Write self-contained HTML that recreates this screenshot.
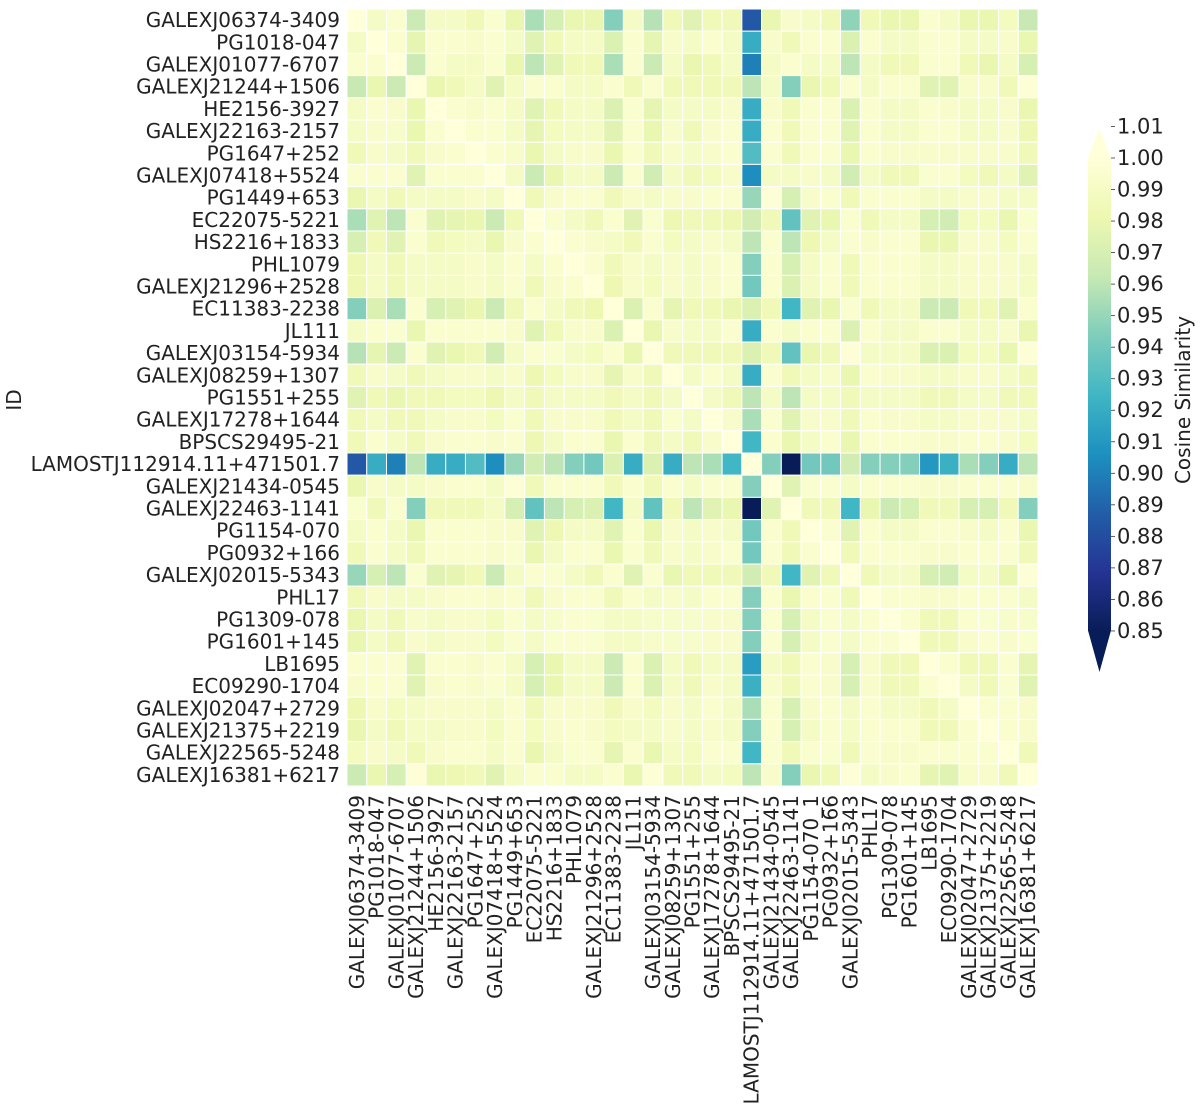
<!DOCTYPE html>
<html><head><meta charset="utf-8"><style>
html,body{margin:0;padding:0;background:#fff;}
svg{display:block;font-family:"DejaVu Sans","Liberation Sans",sans-serif;}
</style></head><body>
<svg id="chart" width="1200" height="1111" viewBox="0 0 1200 1111" xmlns="http://www.w3.org/2000/svg">
<g id="cells"></g>
<g id="ylabels"></g>
<g id="xlabels"></g>
<text transform="translate(21,400) rotate(-90)" text-anchor="middle" font-size="20" fill="#222">ID</text>
<g id="cbar"></g>
<text transform="translate(1190,400) rotate(-90)" text-anchor="middle" font-size="20" fill="#222">Cosine Similarity</text>
</svg>
<script>
const names = ["GALEXJ06374-3409","PG1018-047","GALEXJ01077-6707","GALEXJ21244+1506","HE2156-3927","GALEXJ22163-2157","PG1647+252","GALEXJ07418+5524","PG1449+653","EC22075-5221","HS2216+1833","PHL1079","GALEXJ21296+2528","EC11383-2238","JL111","GALEXJ03154-5934","GALEXJ08259+1307","PG1551+255","GALEXJ17278+1644","BPSCS29495-21","LAMOSTJ112914.11+471501.7","GALEXJ21434-0545","GALEXJ22463-1141","PG1154-070","PG0932+166","GALEXJ02015-5343","PHL17","PG1309-078","PG1601+145","LB1695","EC09290-1704","GALEXJ02047+2729","GALEXJ21375+2219","GALEXJ22565-5248","GALEXJ16381+6217"];
const xNames = names.map(n => n === "PG1154-070" ? "PG1154-070_1" : n);
const cbarTicks = [1.01,1.00,0.99,0.98,0.97,0.96,0.95,0.94,0.93,0.92,0.91,0.90,0.89,0.88,0.87,0.86,0.85];
const values = [
[1.0,.99,.995,.965,.99,.99,.985,.995,.98,.955,.97,.98,.98,.945,.99,.958,.985,.975,.985,.985,.885,.98,.993,.99,.985,.948,.985,.98,.98,.995,.99,.98,.98,.988,.963],
[.99,1,.995,.978,.995,.995,.993,.995,.99,.975,.985,.99,.99,.972,.995,.978,.993,.99,.995,.99,.92,.993,.985,.995,.995,.972,.995,.99,.99,.995,.995,.99,.99,.993,.98],
[.995,.995,1,.965,.995,.99,.99,.995,.98,.96,.975,.985,.985,.955,.995,.965,.99,.98,.985,.99,.9,.99,.995,.99,.99,.96,.99,.985,.985,.995,.995,.985,.98,.99,.97],
[.963,.98,.965,1,.98,.985,.99,.975,.99,.995,.995,.99,.99,.995,.985,.995,.985,.985,.985,.985,.96,.99,.945,.98,.985,.995,.99,.995,.995,.975,.975,.993,.993,.985,.998],
[.99,.995,.993,.98,1,.995,.993,.995,.99,.975,.985,.99,.99,.972,.995,.978,.99,.99,.99,.993,.92,.993,.985,.995,.995,.972,.995,.99,.99,.995,.993,.99,.99,.993,.98],
[.99,.993,.993,.98,.995,1,.995,.995,.99,.978,.988,.99,.99,.975,.995,.98,.993,.985,.993,.995,.92,.995,.985,.995,.995,.975,.995,.99,.99,.995,.995,.99,.99,.993,.982],
[.985,.993,.99,.985,.993,.995,1,.995,.993,.98,.99,.993,.993,.98,.995,.985,.993,.99,.993,.995,.93,.995,.985,.995,.995,.98,.995,.993,.993,.993,.993,.993,.993,.993,.985],
[.995,.995,.995,.975,.995,.995,.995,1,.99,.965,.98,.99,.99,.965,.995,.968,.99,.985,.988,.993,.905,.99,.99,.993,.99,.968,.99,.985,.985,.995,.995,.988,.985,.99,.975],
[.98,.99,.985,.99,.99,.99,.993,.99,1,.985,.993,.995,.995,.985,.993,.99,.993,.993,.995,.995,.95,.998,.97,.993,.995,.985,.995,.995,.995,.99,.99,.993,.993,.99,.99],
[.955,.975,.96,.995,.975,.978,.98,.965,.985,1,.995,.99,.985,.995,.975,.995,.982,.985,.985,.982,.968,.985,.935,.975,.98,.995,.985,.99,.99,.97,.968,.988,.988,.98,.995],
[.97,.985,.975,.995,.985,.988,.99,.98,.993,.995,1,.995,.993,.99,.985,.995,.988,.99,.993,.99,.96,.995,.96,.982,.99,.995,.993,.995,.995,.98,.98,.993,.993,.988,.995],
[.982,.99,.985,.99,.99,.99,.993,.99,.995,.99,.995,1,.995,.985,.993,.99,.993,.99,.993,.995,.945,.995,.97,.99,.995,.985,.995,.995,.995,.99,.99,.993,.993,.993,.99],
[.982,.99,.985,.99,.99,.99,.993,.99,.995,.985,.993,.995,1,.982,.993,.988,.993,.99,.993,.995,.94,.995,.972,.99,.995,.985,.995,.995,.995,.99,.99,.993,.993,.993,.99],
[.945,.972,.955,.995,.97,.975,.98,.965,.985,.995,.99,.985,.982,1,.972,.995,.978,.985,.985,.98,.972,.985,.925,.975,.98,.995,.985,.99,.99,.965,.965,.985,.985,.975,.995],
[.99,.995,.995,.98,.995,.995,.995,.995,.993,.975,.985,.993,.993,.972,1,.98,.993,.99,.99,.995,.92,.995,.99,.995,.995,.972,.995,.99,.99,.995,.995,.99,.99,.993,.98],
[.958,.978,.965,.995,.975,.98,.985,.968,.99,.995,.995,.99,.988,.995,.98,1,.985,.985,.985,.985,.972,.985,.935,.98,.985,.998,.99,.99,.99,.972,.972,.988,.988,.98,.998],
[.985,.993,.99,.985,.99,.993,.993,.99,.993,.982,.988,.993,.993,.978,.993,.985,1,.99,.995,.99,.92,.995,.985,.99,.993,.98,.995,.993,.993,.99,.99,.993,.993,.99,.985],
[.975,.985,.98,.985,.985,.988,.988,.982,.99,.985,.99,.99,.99,.985,.99,.985,.99,1,.99,.985,.96,.99,.96,.99,.99,.985,.99,.99,.99,.985,.985,.99,.99,.985,.985],
[.985,.99,.985,.985,.99,.993,.993,.988,.995,.985,.993,.993,.993,.985,.99,.985,.995,.99,1,.993,.955,.995,.975,.993,.993,.985,.995,.993,.993,.99,.99,.993,.993,.993,.99],
[.985,.995,.99,.985,.993,.995,.995,.993,.995,.982,.99,.995,.995,.98,.995,.985,.99,.985,.993,1,.925,.995,.98,.99,.995,.98,.995,.995,.995,.993,.993,.995,.995,.993,.988],
[.885,.92,.9,.96,.92,.92,.93,.905,.95,.968,.96,.945,.94,.972,.92,.972,.92,.96,.955,.925,1,.945,.85,.94,.94,.968,.945,.945,.945,.91,.922,.955,.945,.92,.96],
[.98,.993,.99,.99,.993,.995,.995,.99,.998,.985,.995,.995,.995,.985,.995,.985,.995,.99,.995,.995,.945,1,.975,.995,.995,.99,.995,.995,.995,.993,.993,.995,.995,.995,.993],
[.995,.985,.995,.945,.985,.985,.985,.99,.97,.935,.96,.97,.972,.925,.99,.935,.985,.96,.975,.98,.85,.975,1,.985,.985,.925,.98,.965,.97,.985,.985,.97,.97,.985,.945],
[.99,.995,.99,.98,.995,.995,.995,.993,.993,.975,.982,.99,.99,.975,.995,.98,.993,.99,.993,.99,.94,.995,.985,1,.995,.975,.995,.99,.99,.995,.995,.993,.99,.995,.98],
[.985,.995,.99,.985,.995,.995,.995,.993,.995,.98,.99,.995,.995,.98,.995,.985,.993,.99,.993,.995,.94,.995,.985,.995,1,.985,.995,.995,.995,.993,.993,.995,.995,.995,.985],
[.95,.97,.96,.995,.975,.978,.985,.965,.99,.995,.995,.99,.985,.995,.975,.995,.98,.985,.985,.985,.968,.985,.925,.975,.985,1,.985,.99,.99,.97,.968,.99,.99,.98,.998],
[.985,.993,.99,.99,.993,.995,.995,.993,.995,.985,.993,.995,.995,.985,.995,.99,.993,.99,.995,.995,.945,.995,.98,.995,.995,.985,1,.995,.995,.993,.993,.995,.995,.995,.99],
[.98,.99,.985,.993,.99,.993,.993,.988,.995,.99,.993,.995,.995,.99,.99,.993,.993,.993,.993,.993,.945,.995,.97,.99,.995,.99,.995,1,.995,.985,.985,.995,.995,.993,.993],
[.98,.99,.985,.993,.99,.993,.993,.988,.995,.99,.995,.995,.995,.99,.99,.993,.993,.993,.993,.993,.945,.995,.97,.99,.995,.99,.995,.995,1,.985,.985,.993,.995,.993,.995],
[.995,.995,.995,.975,.995,.995,.993,.995,.99,.97,.98,.99,.99,.965,.995,.972,.99,.985,.99,.99,.912,.99,.985,.995,.993,.97,.993,.985,.985,1,.995,.985,.985,.995,.978],
[.993,.995,.995,.975,.993,.995,.993,.995,.99,.97,.98,.99,.99,.965,.995,.972,.99,.985,.993,.99,.922,.993,.985,.995,.993,.97,.993,.985,.985,.995,1,.99,.985,.995,.975],
[.982,.993,.988,.99,.993,.993,.993,.99,.995,.985,.993,.993,.993,.985,.993,.988,.993,.99,.995,.99,.955,.995,.97,.993,.995,.99,.995,.99,.99,.985,.99,1,.995,.995,.993],
[.98,.99,.985,.99,.99,.993,.993,.988,.995,.988,.993,.995,.993,.988,.99,.99,.993,.99,.993,.99,.945,.995,.97,.99,.995,.99,.995,.995,.995,.985,.985,.995,1,.995,.993],
[.988,.993,.99,.985,.993,.995,.995,.99,.995,.98,.99,.995,.995,.978,.995,.98,.99,.988,.995,.995,.925,.995,.985,.995,.995,.985,.995,.993,.993,.995,.995,.995,.995,1,.985],
[.965,.98,.97,.998,.98,.982,.985,.975,.99,.995,.995,.99,.99,.995,.98,.998,.985,.985,.99,.988,.96,.993,.945,.98,.985,.998,.99,.993,.995,.978,.975,.993,.993,.985,1]
];
const VMIN = 0.85, VMAX = 1.00;
const stops = ["#ffffd9","#edf8b1","#c7e9b4","#7fcdbb","#41b6c4","#1d91c0","#225ea8","#253494","#081d58"];
function hex(c){return [parseInt(c.substr(1,2),16),parseInt(c.substr(3,2),16),parseInt(c.substr(5,2),16)];}
function color(v){
  let t = (VMAX - v)/(VMAX - VMIN); t = Math.max(0, Math.min(1, t));
  const p = t*(stops.length-1); const i = Math.min(Math.floor(p), stops.length-2); const f = p - i;
  const a = hex(stops[i]), b = hex(stops[i+1]);
  return "rgb(" + a.map((x,k)=>Math.round(x+(b[k]-x)*f)).join(",") + ")";
}
const NS = "http://www.w3.org/2000/svg";
const X0 = 347, X1 = 1038, Y0 = 9, Y1 = 786;
const n = names.length;
const cw = (X1-X0)/n, ch = (Y1-Y0)/n;
function xScale(i){return X0 + i*cw;}
function yScale(i){return Y0 + i*ch;}
function cbarY(v){return 158 + (1.00 - v)/0.01*31.53;}
const cells = document.getElementById("cells");
for (let r=0;r<n;r++) for (let c=0;c<n;c++){
  const el = document.createElementNS(NS,"rect");
  el.setAttribute("x", xScale(c)); el.setAttribute("y", yScale(r));
  el.setAttribute("width", cw); el.setAttribute("height", ch);
  el.setAttribute("fill", color(values[r][c]));
  el.setAttribute("stroke", "#fff"); el.setAttribute("stroke-width", "1");
  
  
  cells.appendChild(el);
}
const yl = document.getElementById("ylabels");
names.forEach((nm,i)=>{
  const t = document.createElementNS(NS,"text");
  t.setAttribute("x", 340); t.setAttribute("y", yScale(i)+ch/2+7);
  t.setAttribute("text-anchor","end"); t.setAttribute("font-size","20"); t.setAttribute("fill","#222");
  t.textContent = nm;
  
  
  yl.appendChild(t);
});
const xl = document.getElementById("xlabels");
xNames.forEach((nm,i)=>{
  const t = document.createElementNS(NS,"text");
  const cx = xScale(i)+cw/2+7;
  t.setAttribute("transform","translate("+cx+",795) rotate(-90)");
  t.setAttribute("text-anchor","end"); t.setAttribute("font-size","20"); t.setAttribute("fill","#222");
  t.textContent = nm;
  
  
  xl.appendChild(t);
});
const cb = document.getElementById("cbar");
const defs = document.createElementNS(NS,"defs");
const lg = document.createElementNS(NS,"linearGradient");
lg.setAttribute("id","cg"); lg.setAttribute("x1","0"); lg.setAttribute("y1","0"); lg.setAttribute("x2","0"); lg.setAttribute("y2","1");
stops.forEach((s,i)=>{const st=document.createElementNS(NS,"stop");st.setAttribute("offset",(i/(stops.length-1)));st.setAttribute("stop-color",s);lg.appendChild(st);});
defs.appendChild(lg); cb.appendChild(defs);
const bx0 = 1088, bx1 = 1111, cTop = cbarY(1.00), cBot = cbarY(0.85);
const rect = document.createElementNS(NS,"rect");
rect.setAttribute("x",bx0); rect.setAttribute("y",cTop); rect.setAttribute("width",bx1-bx0); rect.setAttribute("height",cBot-cTop);
rect.setAttribute("fill","url(#cg)");


cb.appendChild(rect);
const triT = document.createElementNS(NS,"polygon");
triT.setAttribute("points", bx0+","+(cTop+0.5)+" "+bx1+","+(cTop+0.5)+" "+((bx0+bx1)/2)+","+(cTop-30));
triT.setAttribute("fill", stops[0]);


cb.appendChild(triT);
const triB = document.createElementNS(NS,"polygon");
triB.setAttribute("points", bx0+","+(cBot-0.5)+" "+bx1+","+(cBot-0.5)+" "+((bx0+bx1)/2)+","+(cBot+41));
triB.setAttribute("fill", stops[stops.length-1]);


cb.appendChild(triB);
cbarTicks.forEach(v=>{
  const y = cbarY(v);
  const ln = document.createElementNS(NS,"line");
  ln.setAttribute("x1",bx1); ln.setAttribute("x2",bx1+4); ln.setAttribute("y1",y); ln.setAttribute("y2",y);
  ln.setAttribute("stroke","#333"); ln.setAttribute("stroke-width","0.8");
  
  
  cb.appendChild(ln);
  const t = document.createElementNS(NS,"text");
  t.setAttribute("x", bx1+6); t.setAttribute("y", y+7);
  t.setAttribute("font-size","21"); t.setAttribute("fill","#222");
  t.textContent = v.toFixed(2);
  
  
  cb.appendChild(t);
});
</script>
</body></html>
